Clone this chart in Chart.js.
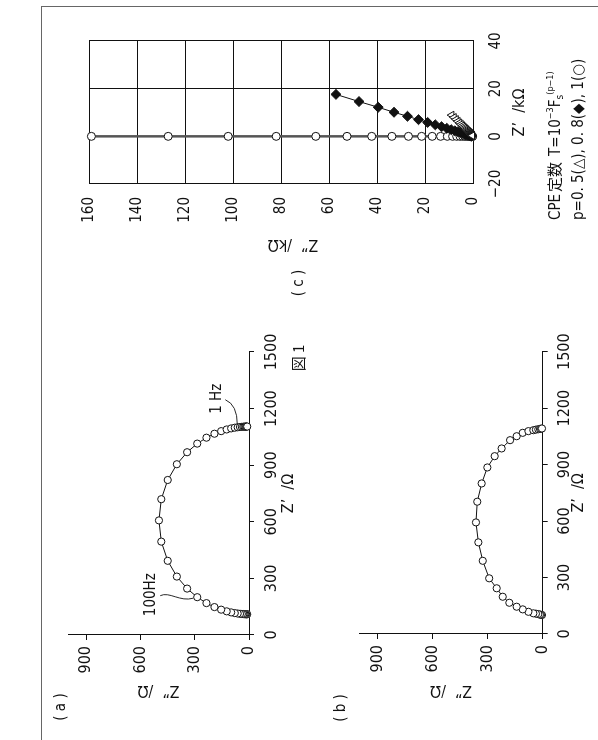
<!DOCTYPE html>
<html>
<head>
<meta charset="utf-8">
<script src="https://cdn.jsdelivr.net/npm/chart.js@4.4.1/dist/chart.umd.min.js"></script>
<style>
  html, body { margin: 0; padding: 0; background: #fff; }
  body { width: 598px; height: 740px; overflow: hidden; position: relative; }
  /* the figure is laid out landscape and turned a quarter turn counter-clockwise */
  #fig { position: absolute; left: 0; top: 0; width: 740px; height: 598px;
         transform-origin: 0 0; transform: translate(0, 740px) rotate(-90deg); }
  #fig canvas { position: absolute; left: 0; top: 0; }
  .frame { position: absolute; left: -2px; top: 41px; width: 735px; height: 600px;
           border-top: 1px solid #666; border-right: 1px solid #666; }
  .txt { position: absolute; color: #111; white-space: nowrap;
         font-family: 'Liberation Sans Narrow', 'DejaVu Sans Condensed', 'Liberation Sans', 'Noto Sans CJK JP', sans-serif; }
  .c { transform: translate(-50%, -50%); font-size: 15px; }
  .vt { transform: translate(-50%, -50%) rotate(-90deg); font-size: 16px; }
  .jp { font-family: 'Noto Sans CJK JP', sans-serif; display: inline-block; margin: 0 6px 0 2px; }
  .fignum { font-family: 'Noto Sans CJK JP', sans-serif; font-size: 15px; }
  .cpe { transform: translateY(-50%); font-size: 15px; }
  .cpe sup { font-size: 9px; vertical-align: 7px; }
  .cpe .sub { font-size: 10px; position: relative; top: 3px; }
</style>
</head>
<body>
<div id="fig">
  <div class="frame"></div>
  <canvas id="chartA" width="740" height="598"></canvas>
  <canvas id="chartB" width="740" height="598"></canvas>
  <canvas id="chartC" width="740" height="598"></canvas>
  <div class="txt c" style="left:33px; top:60px;">( a )</div>
  <div class="txt c" style="left:32px; top:340px;">( b )</div>
  <div class="txt c" style="left:457px; top:298px;">( c )</div>
  <div class="txt c fignum" style="left:382px; top:297px;">図 1</div>
  <div class="txt vt" style="left:494px; top:293px;">Z”&nbsp; /kΩ</div>
  <div class="txt cpe" style="left:520px; top:553px;">CPE<span class="jp">定数</span>T=10<sup>−3</sup>F<span class="sub">s</span><sup>(p−1)</sup></div>
  <div class="txt cpe" style="left:520px; top:578px;">p=0. 5(△), 0. 8(◆), 1(○)</div>
</div>
<script>
// ---- data ----
// (a) RC semicircle: Z' and Z'' in ohm, high-frequency end first
const arcA_re = [110.1, 110.2, 110.2, 110.4, 110.6, 111.0, 111.6, 112.5, 113.9, 116.2,
                 119.9, 125.5, 134.4, 148.1, 169.1, 200.5, 246.1, 309.8, 393.3, 495.0,
                 607.5, 720.0, 821.7, 905.2, 968.9, 1014.5, 1045.9, 1066.9, 1080.6, 1089.5,
                 1095.1, 1098.8, 1101.1, 1102.5, 1103.4, 1104.0, 1104.4, 1104.6, 1104.8, 1104.8, 1104.9];
const arcA_im = [9.9, 12.5, 15.8, 19.9, 25.0, 31.4, 39.5, 49.7, 62.5, 78.5,
                 98.5, 123.3, 153.8, 190.9, 235.1, 286.0, 341.9, 398.6, 449.0, 484.6,
                 497.5, 484.6, 449.0, 398.6, 341.9, 286.0, 235.1, 190.9, 153.8, 123.3,
                 98.5, 78.5, 62.5, 49.7, 39.5, 31.4, 25.0, 19.9, 15.8, 12.5, 9.9];

// (b) flattened arc: Z' and Z'' in ohm
const arcB_re = [101, 102, 103, 106, 108, 110, 118, 131, 145, 166, 198, 243, 296, 389, 487,
                 593, 703, 800, 885, 945, 986, 1030, 1051, 1069, 1078, 1083, 1086, 1088, 1090, 1091, 1092];
const arcB_im = [4, 9, 15, 24, 37, 51, 78, 109, 142, 182, 218, 251, 292, 327, 351,
                 364, 357, 333, 302, 262, 224, 178, 142, 109, 78, 51, 37, 24, 15, 9, 4];

// (c) CPE only, kΩ, lowest frequency first
const cpe05_re = [8.9, 7.93, 7.07, 6.30, 5.62, 5.01, 4.46, 3.98, 3.55, 3.16, 2.82, 2.51, 2.24, 2.00, 1.78, 1.59,
                  1.41, 1.26, 1.12, 1.00, 0.89, 0.80, 0.71, 0.63, 0.56, 0.50, 0.45, 0.40, 0.35, 0.32, 0.28];
const cpe05_im = [8.9, 7.93, 7.07, 6.30, 5.62, 5.01, 4.46, 3.98, 3.55, 3.16, 2.82, 2.51, 2.24, 2.00, 1.78, 1.59,
                  1.41, 1.26, 1.12, 1.00, 0.89, 0.80, 0.71, 0.63, 0.56, 0.50, 0.45, 0.40, 0.35, 0.32, 0.28];
const cpe08_re = [17.6, 14.6, 12.2, 10.1, 8.42, 7.00, 5.83, 4.84, 4.04, 3.36, 2.79, 2.32, 1.93, 1.61, 1.34, 1.11,
                  0.92, 0.77, 0.64, 0.53, 0.44, 0.37, 0.31, 0.26, 0.21, 0.18];
const cpe08_im = [57.1, 47.5, 39.5, 32.9, 27.3, 22.7, 18.9, 15.7, 13.1, 10.9, 9.06, 7.53, 6.27, 5.21, 4.34, 3.61,
                  3.00, 2.49, 2.07, 1.73, 1.44, 1.19, 0.99, 0.83, 0.69, 0.57];
const cpe10_re = [0, 0, 0, 0, 0, 0, 0, 0, 0, 0, 0, 0, 0, 0, 0, 0, 0, 0, 0, 0, 0, 0, 0, 0, 0, 0, 0, 0, 0, 0, 0];
const cpe10_im = [159, 127, 102, 82, 65.5, 52.5, 42.2, 33.8, 26.9, 21.4, 17.0, 13.5, 10.7, 8.5, 6.8, 5.4,
                  4.3, 3.4, 2.7, 2.15, 1.7, 1.35, 1.07, 0.85, 0.68, 0.54, 0.43, 0.34, 0.27, 0.21, 0.17];

// tick values
const ohmTicksRe = [0, 300, 600, 900, 1200, 1500];
const ohmTicksIm = [0, 300, 600, 900];
const kohmTicksRe = [-20, 0, 20, 40];
const kohmTicksIm = [0, 20, 40, 60, 80, 100, 120, 140, 160];

// frequency notes on (a): text and the point each one marks
const freqLabels = ['100Hz', '1 Hz'];
const freqIndex = [15, 35];

// ---- drawing ----
const FONT = "'Liberation Sans Narrow', 'DejaVu Sans Condensed', 'Liberation Sans', 'Noto Sans CJK JP', sans-serif";
const INK = '#111';
Chart.defaults.font.family = FONT;
Chart.defaults.color = INK;

const pts = (re, im) => re.map((x, i) => ({ x: x, y: im[i] }));
const setTicks = list => scale => { scale.ticks = list.map(v => ({ value: v })); };
const plain = v => (v < 0 ? '−' + Math.abs(v) : String(v));

const freqNotes = {
  id: 'freqNotes',
  afterDatasetsDraw(chart) {
    const { ctx, scales: { x, y } } = chart;
    ctx.save();
    ctx.strokeStyle = INK; ctx.fillStyle = INK; ctx.lineWidth = 0.9;
    ctx.font = '15px ' + FONT; ctx.textAlign = 'center'; ctx.textBaseline = 'middle';
    freqLabels.forEach((txt, k) => {
      const i = freqIndex[k];
      const px = x.getPixelForValue(arcA_re[i]);
      const py = y.getPixelForValue(arcA_im[i]);
      ctx.beginPath();
      if (k === 0) {
        ctx.fillText(txt, px + 2.5, py - 46);
        ctx.moveTo(px + 1.5, py - 37);
        ctx.bezierCurveTo(px + 6, py - 28, px - 5, py - 17, px - 1, py - 4);
      } else {
        ctx.fillText(txt, px + 28, py - 26);
        ctx.moveTo(px + 27, py - 18);
        ctx.quadraticCurveTo(px + 22, py - 6, px + 2, py - 6);
      }
      ctx.stroke();
    });
    ctx.restore();
  }
};

function arcPanel(id, re, im, box, plugins) {
  return new Chart(document.getElementById(id), {
    type: 'scatter',
    data: {
      datasets: [{
        data: pts(re, im), showLine: true, tension: 0, clip: false,
        borderColor: INK, borderWidth: 1,
        pointRadius: 3.6, pointBackgroundColor: '#fff', pointBorderColor: INK, pointBorderWidth: 1
      }]
    },
    options: {
      responsive: false, animation: false, devicePixelRatio: 1,
      layout: { padding: { left: 0, top: box.top, right: 740 - box.right, bottom: 598 - box.bottom - box.xH } },
      plugins: { legend: { display: false }, tooltip: { enabled: false } },
      scales: {
        x: {
          type: 'linear', min: 0, max: 1500,
          afterBuildTicks: setTicks(ohmTicksRe),
          afterFit: s => { s.height = box.xH; },
          grid: { drawOnChartArea: false, color: INK, tickLength: 5 },
          border: { color: INK, width: 1 },
          ticks: { padding: 8, maxRotation: 0, font: { size: 16 }, callback: plain },
          title: { display: true, text: 'Z’  /Ω', font: { size: 16 }, padding: { top: 0, bottom: box.xTitlePad } }
        },
        y: {
          type: 'linear', min: 0, max: 1000,
          afterBuildTicks: setTicks(ohmTicksIm),
          afterFit: s => { s.width = box.left; },
          grid: { drawOnChartArea: false, color: INK, tickLength: 5 },
          border: { color: INK, width: 1 },
          ticks: { padding: 6, font: { size: 16 }, callback: plain },
          title: { display: true, text: 'Z”  /Ω', font: { size: 16 }, padding: { top: 40, bottom: 0 } }
        }
      }
    },
    plugins: plugins || []
  });
}

arcPanel('chartA', arcA_re, arcA_im, { left: 105, right: 388, top: 68, bottom: 249, xH: 60, xTitlePad: 11 }, [freqNotes]);
arcPanel('chartB', arcB_re, arcB_im, { left: 106, right: 388.3, top: 359.4, bottom: 542.7, xH: 55.3, xTitlePad: 10 });

new Chart(document.getElementById('chartC'), {
  type: 'scatter',
  data: {
    datasets: [
      { data: pts(cpe05_re, cpe05_im), showLine: true, clip: false, borderColor: INK, borderWidth: 1,
        pointStyle: 'triangle', pointRadius: 4.5, pointBackgroundColor: '#fff', pointBorderColor: INK, pointBorderWidth: 1 },
      { data: pts(cpe08_re, cpe08_im), showLine: true, clip: false, borderColor: INK, borderWidth: 1,
        pointStyle: 'rectRot', pointRadius: 5, pointBackgroundColor: INK, pointBorderColor: INK, pointBorderWidth: 1 },
      { data: pts(cpe10_re, cpe10_im), showLine: true, clip: false, borderColor: '#555', borderWidth: 2.5,
        pointStyle: 'circle', pointRadius: 4, pointBackgroundColor: '#fff', pointBorderColor: INK, pointBorderWidth: 1 }
    ]
  },
  options: {
    responsive: false, animation: false, devicePixelRatio: 1,
    layout: { padding: { left: 476, top: 89, right: 41, bottom: 55 } },
    plugins: { legend: { display: false }, tooltip: { enabled: false } },
    scales: {
      x: {
        type: 'linear', min: -20, max: 40,
        afterBuildTicks: setTicks(kohmTicksRe),
        afterFit: s => { s.height = 70; },
        grid: { color: INK, lineWidth: 1, drawTicks: false },
        border: { color: INK, width: 1 },
        ticks: { padding: 14, maxRotation: 0, font: { size: 15 }, callback: plain },
        title: { display: true, text: 'Z’  /kΩ', font: { size: 16 }, padding: { top: 0, bottom: 14 } }
      },
      y: {
        type: 'linear', min: 0, max: 160,
        afterBuildTicks: setTicks(kohmTicksIm),
        afterFit: s => { s.width = 80; },
        grid: { color: INK, lineWidth: 1, drawTicks: false },
        border: { color: INK, width: 1 },
        ticks: { padding: 13, font: { size: 15 }, callback: plain },
        title: { display: false }
      }
    }
  }
});
</script>
</body>
</html>
